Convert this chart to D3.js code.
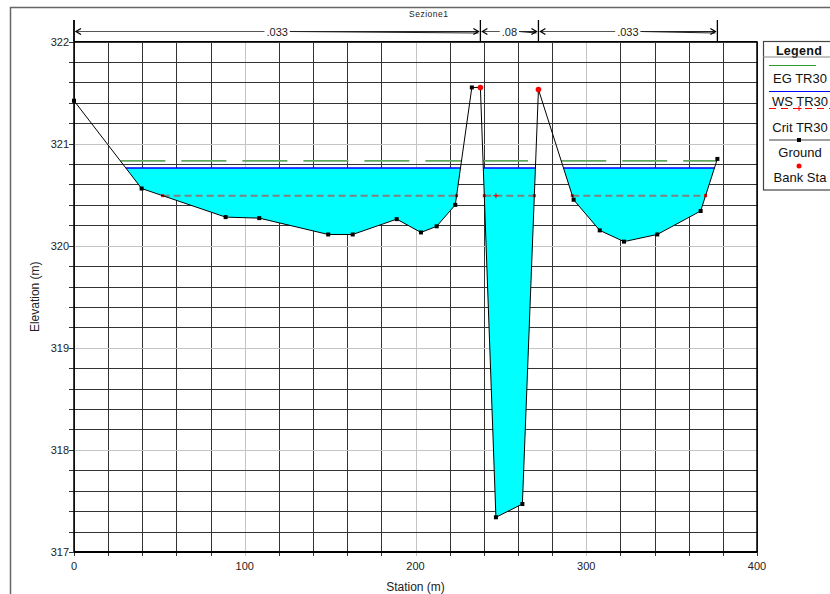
<!DOCTYPE html>
<html>
<head>
<meta charset="utf-8">
<script src="https://cdn.jsdelivr.net/npm/d3@7"></script>
<style>
  html, body { margin: 0; padding: 0; background: #fff; }
  svg { display: block; font-family: "Liberation Sans", Arial, sans-serif; }
</style>
</head>
<body>
<svg id="chart" width="830" height="594"></svg>
<script>
// Cross-section "Sezione1": ground profile, water surfaces and Manning's n reaches
const stations   = [0, 39.6, 88.8, 108.5, 148.9, 163.2, 189.0, 203.2, 212.4, 223.3, 233.0, 238.0, 247.1, 262.6, 272.0, 292.6, 307.9, 322.1, 341.6, 367.0, 376.8];
const elevations = [321.42, 320.56, 320.28, 320.27, 320.11, 320.11, 320.26, 320.13, 320.19, 320.40, 321.55, 321.55, 317.34, 317.47, 321.53, 320.45, 320.15, 320.04, 320.11, 320.34, 320.85];
const bankStations = [238.0, 272.0];
const manningN = [".033", ".08", ".033"];
const egElev = 320.83;     // EG TR30
const wsElev = 320.76;     // WS TR30
const critElev = 320.49;   // Crit TR30
const xTicks = [0, 100, 200, 300, 400];
const yTicks = [317, 318, 319, 320, 321, 322];
const legendItems = ["EG TR30", "WS TR30", "Crit TR30", "Ground", "Bank Sta"];
const title = "Sezione1";

const ground = stations.map((s, i) => ({ s, g: elevations[i] }));

const svg = d3.select("#chart");
const L = 74, R = 757, T = 41.5, B = 552;
const x = d3.scaleLinear().domain([0, 400]).range([L, R]);
const y = d3.scaleLinear().domain([317, 322]).range([B, T]);

// outer frame
svg.append("path").attr("d", "M10.5,600 L10.5,7.5 L840,7.5")
  .attr("fill", "none").attr("stroke", "#666").attr("stroke-width", 1.5);

// title
svg.append("text").attr("x", 409).attr("y", 17).attr("font-size", 8.5)
  .attr("letter-spacing", 0.5).attr("fill", "#222").text(title);

// grid
const g = svg.append("g");
d3.range(0, 401, 20).forEach(v => {
  const px = Math.round(x(v)) + 0.5;
  g.append("line").attr("x1", px).attr("x2", px).attr("y1", T).attr("y2", B + 4)
    .attr("stroke", v % 100 === 0 && v > 0 && v < 400 ? "#c4c4c4" : "#333").attr("stroke-width", 1);
});
d3.range(0, 26).map(i => 317 + i * 0.2).forEach(v => {
  const py = Math.round(y(v)) + 0.5;
  const major = Math.abs(v - Math.round(v)) < 1e-6;
  g.append("line").attr("x1", L - 5).attr("x2", R).attr("y1", py).attr("y2", py)
    .attr("stroke", major && v > 317.5 && v < 321.5 ? "#c4c4c4" : "#333").attr("stroke-width", 1);
  if (major) {
    g.append("line").attr("x1", L - 5).attr("x2", L).attr("y1", py).attr("y2", py).attr("stroke", "#333");
  }
});

// densified profile with crossings of a given level
function profileAt(level) {
  const pts = [];
  for (let i = 0; i < ground.length; i++) {
    const a = ground[i];
    pts.push({ s: a.s, g: a.g, wet: a.g <= level });
    if (i < ground.length - 1) {
      const b = ground[i + 1];
      if ((a.g - level) * (b.g - level) < 0) {
        const t = (level - a.g) / (b.g - a.g);
        pts.push({ s: a.s + t * (b.s - a.s), g: level, wet: true });
      }
    }
  }
  return pts;
}
function spansAt(level) {
  const pts = profileAt(level), spans = [];
  let cur = null;
  pts.forEach(p => {
    if (p.wet) { if (!cur) cur = [p.s, p.s]; else cur[1] = p.s; }
    else if (cur) { spans.push(cur); cur = null; }
  });
  if (cur) spans.push(cur);
  return spans.filter(sp => sp[1] - sp[0] > 0.01);
}

// water fill
const area = d3.area().defined(d => d.wet)
  .x(d => x(d.s)).y0(d => y(d.g)).y1(() => y(wsElev));
svg.append("path").datum(profileAt(wsElev)).attr("d", area).attr("fill", "#00ffff");

const hline = (level) => d3.line().x(d => x(d)).y(() => y(level));

// EG line
spansAt(egElev).forEach(sp => {
  svg.append("path").datum(sp).attr("d", hline(egElev))
    .attr("stroke", "#5fa85f").attr("stroke-width", 1.7).attr("fill", "none")
    .attr("stroke-dasharray", "45,16");
});
// WS line
spansAt(wsElev).forEach(sp => {
  svg.append("path").datum(sp).attr("d", hline(wsElev))
    .attr("stroke", "#0000ff").attr("stroke-width", 1.5).attr("fill", "none");
});
// Crit line
const critSpans = spansAt(critElev);
critSpans.forEach(sp => {
  svg.append("path").datum(sp).attr("d", hline(critElev))
    .attr("stroke", "#808080").attr("stroke-width", 2).attr("fill", "none")
    .attr("stroke-dasharray", "7,4");
  sp.forEach(s => svg.append("rect").attr("x", x(s) - 1.5).attr("y", y(critElev) - 1.5)
    .attr("width", 3).attr("height", 3).attr("fill", "#ff0000"));
});
// crit marker at the channel thalweg
const chan = ground.filter(d => d.s > bankStations[0] && d.s < bankStations[1]);
const thal = chan.reduce((a, b) => (b.g < a.g ? b : a));
svg.append("path")
  .attr("d", `M${x(thal.s) - 2.5},${y(critElev)}h5M${x(thal.s)},${y(critElev) - 2.5}v5`)
  .attr("stroke", "#ff0000").attr("stroke-width", 1.2);

// ground line
svg.append("path").datum(ground)
  .attr("d", d3.line().x(d => x(d.s)).y(d => y(d.g)))
  .attr("fill", "none").attr("stroke", "#000").attr("stroke-width", 1);
ground.filter(d => !bankStations.includes(d.s)).forEach(d => {
  svg.append("rect").attr("x", x(d.s) - 2).attr("y", y(d.g) - 2)
    .attr("width", 4).attr("height", 4).attr("fill", "#000");
});
ground.filter(d => bankStations.includes(d.s)).forEach(d => {
  svg.append("circle").attr("cx", x(d.s)).attr("cy", y(d.g)).attr("r", 2.8).attr("fill", "#ff0000");
});

// plot borders
svg.append("line").attr("x1", L).attr("x2", R).attr("y1", B).attr("y2", B)
  .attr("stroke", "#000").attr("stroke-width", 2);
svg.append("line").attr("x1", L).attr("x2", R).attr("y1", T).attr("y2", T)
  .attr("stroke", "#000").attr("stroke-width", 1.2);
svg.append("line").attr("x1", R).attr("x2", R).attr("y1", T).attr("y2", B)
  .attr("stroke", "#000").attr("stroke-width", 1.5);
svg.append("line").attr("x1", L).attr("x2", L).attr("y1", 20).attr("y2", B)
  .attr("stroke", "#000").attr("stroke-width", 1.5);

// axis labels
xTicks.forEach(v => svg.append("text").attr("x", x(v)).attr("y", 570).attr("text-anchor", "middle")
  .attr("font-size", 11).attr("fill", "#222").text(v));
yTicks.forEach(v => svg.append("text").attr("x", L - 5).attr("y", y(v) + 4).attr("text-anchor", "end")
  .attr("font-size", 11).attr("fill", "#222").text(v));
svg.append("text").attr("x", (L + R) / 2).attr("y", 591).attr("text-anchor", "middle")
  .attr("font-size", 12).attr("fill", "#222").text("Station (m)");
svg.append("text").attr("transform", `translate(39,${(T + B) / 2}) rotate(-90)`)
  .attr("text-anchor", "middle").attr("font-size", 12).attr("fill", "#222").text("Elevation (m)");

// Manning's n reaches
const nBounds = [stations[0], bankStations[0], bankStations[1], stations[stations.length - 1]];
const ny = 31.5;
nBounds.forEach(s => svg.append("line").attr("x1", x(s)).attr("x2", x(s)).attr("y1", 20).attr("y2", T)
  .attr("stroke", "#000").attr("stroke-width", 1.3));
manningN.forEach((n, i) => {
  const a = x(nBounds[i]) + 2, b = x(nBounds[i + 1]) - 2, c = (a + b) / 2;
  const t = svg.append("text").attr("x", c).attr("y", ny + 4).attr("text-anchor", "middle")
    .attr("font-size", 11).attr("fill", "#222").text(n);
  const w = t.node().getComputedTextLength() / 2 + 2;
  svg.append("line").attr("x1", a).attr("x2", c - w).attr("y1", ny).attr("y2", ny).attr("stroke", "#555");
  svg.append("path").attr("d", `M${c + w},${ny}L${b},${ny}M${c + w},${ny}L${b},${ny + 1.5}`)
    .attr("stroke", "#222").attr("fill", "none");
  svg.append("path").attr("d", `M${a + 5},${ny - 3}L${a},${ny}L${a + 5},${ny + 3}`)
    .attr("stroke", "#000").attr("fill", "none").attr("stroke-width", 1.3);
  svg.append("path").attr("d", `M${b - 5},${ny - 3}L${b},${ny}L${b - 5},${ny + 3}`)
    .attr("stroke", "#000").attr("fill", "none").attr("stroke-width", 1.3);
});

// legend
const lg = svg.append("g");
const lx = 763, lw = 72, lcx = 799;
lg.append("rect").attr("x", lx + 0.5).attr("y", 41.5).attr("width", lw).attr("height", 148.5)
  .attr("fill", "#fff").attr("stroke", "#444").attr("stroke-width", 1.2);
lg.append("text").attr("x", lcx).attr("y", 54.5).attr("text-anchor", "middle")
  .attr("font-size", 12.5).attr("font-weight", "bold").attr("letter-spacing", 0.3)
  .attr("fill", "#111").text("Legend");
lg.append("line").attr("x1", lx).attr("x2", lx + lw).attr("y1", 57).attr("y2", 57).attr("stroke", "#888");
const textY = [82.5, 106, 132, 157, 181.5];
legendItems.forEach((t, i) => lg.append("text").attr("x", lcx + 1).attr("y", textY[i])
  .attr("text-anchor", "middle").attr("font-size", 13).attr("fill", "#111").text(t));
lg.append("line").attr("x1", 769).attr("x2", 816).attr("y1", 65.5).attr("y2", 65.5)
  .attr("stroke", "#2a9a2a").attr("stroke-width", 1.2);
lg.append("line").attr("x1", 769).attr("x2", 830).attr("y1", 91.5).attr("y2", 91.5)
  .attr("stroke", "#0000ff").attr("stroke-width", 1.2);
lg.append("line").attr("x1", 769).attr("x2", 830).attr("y1", 108.5).attr("y2", 108.5)
  .attr("stroke", "#ff0000").attr("stroke-width", 1.2).attr("stroke-dasharray", "7,5");
lg.append("path").attr("d", `M${lcx - 2.5},108.5h5M${lcx},106v5`).attr("stroke", "#ff0000");
lg.append("line").attr("x1", 769).attr("x2", 830).attr("y1", 140).attr("y2", 140)
  .attr("stroke", "#444").attr("stroke-width", 1.2);
lg.append("rect").attr("x", lcx - 2).attr("y", 138).attr("width", 4).attr("height", 4).attr("fill", "#000");
lg.append("circle").attr("cx", lcx).attr("cy", 166).attr("r", 2.5).attr("fill", "#ff0000");
</script>
</body>
</html>
